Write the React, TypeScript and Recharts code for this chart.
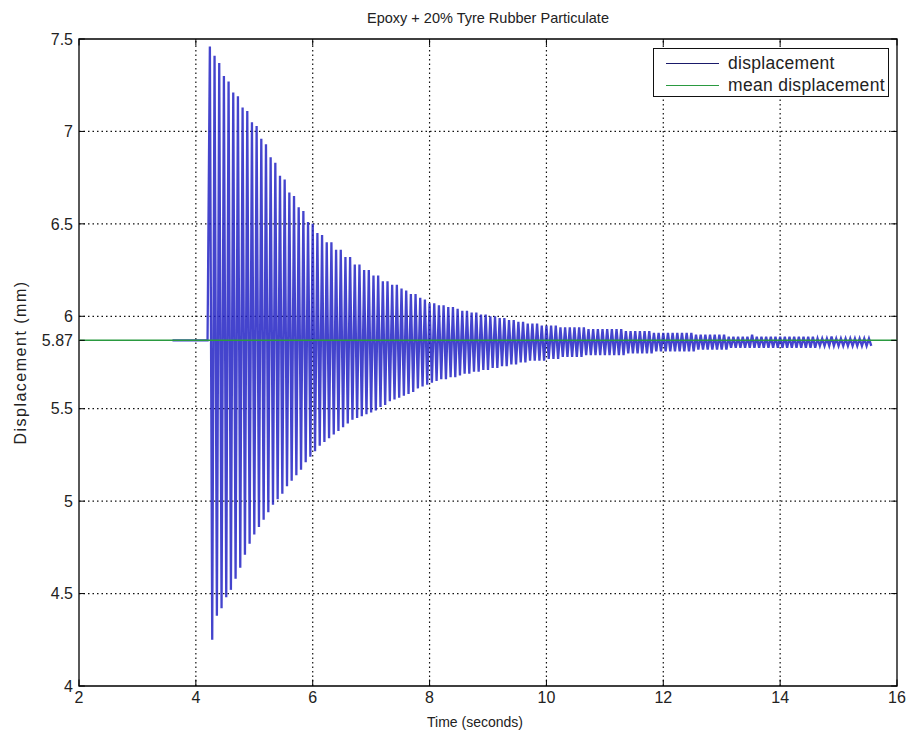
import React from "react";
import {
  LineChart,
  Line,
  XAxis,
  YAxis,
  Label,
  Legend,
  ReferenceLine,
  ReferenceArea,
} from "recharts";

// Free-decay test: time of the first crest and spacing between crests (s)
const cycleStart = 4.24;
const cyclePeriod = 0.08;

// Signal sitting at rest before the hit
const restTimes = [3.6, 4.2];
const restValues = [5.87, 5.87];

// Peak displacement of each cycle (mm)
const crestValues = [
  7.46, 7.41, 7.37, 7.3, 7.27, 7.21, 7.19, 7.13, 7.11, 7.05,
  7.03, 6.96, 6.93, 6.86, 6.83, 6.76, 6.74, 6.67, 6.65, 6.59,
  6.57, 6.51, 6.5, 6.45, 6.44, 6.4, 6.4, 6.36, 6.36, 6.32,
  6.32, 6.28, 6.28, 6.25, 6.25, 6.22, 6.22, 6.19, 6.19, 6.17,
  6.17, 6.15, 6.14, 6.12, 6.12, 6.1, 6.09, 6.07, 6.07, 6.06,
  6.06, 6.05, 6.05, 6.04, 6.03, 6.03, 6.02, 6.02, 6.01, 6.01,
  6.0, 6.0, 5.99, 5.99, 5.98, 5.98, 5.97, 5.97, 5.96, 5.96,
  5.96, 5.95, 5.95, 5.95, 5.95, 5.94, 5.94, 5.94, 5.94, 5.94,
  5.94, 5.93, 5.93, 5.93, 5.93, 5.93, 5.93, 5.93, 5.93, 5.92,
  5.92, 5.92, 5.92, 5.92, 5.92, 5.91, 5.91, 5.91, 5.91, 5.91,
  5.91, 5.91, 5.91, 5.91, 5.9, 5.9, 5.9, 5.9, 5.9, 5.9,
  5.9, 5.89, 5.89, 5.89, 5.89, 5.89, 5.9, 5.89, 5.89, 5.89,
  5.89, 5.89, 5.89, 5.89, 5.89, 5.89, 5.89, 5.89, 5.89, 5.89,
  5.88, 5.88, 5.88, 5.89, 5.88, 5.88, 5.88, 5.88, 5.88, 5.88,
  5.88, 5.88,
];

// Lowest displacement of each cycle (mm)
const troughValues = [
  4.25, 4.38, 4.42, 4.48, 4.52, 4.58, 4.64, 4.71, 4.77, 4.82,
  4.86, 4.9, 4.94, 4.98, 5.01, 5.04, 5.08, 5.11, 5.14, 5.17,
  5.21, 5.24, 5.27, 5.3, 5.32, 5.34, 5.36, 5.38, 5.4, 5.42,
  5.44, 5.45, 5.46, 5.47, 5.48, 5.49, 5.51, 5.52, 5.54, 5.55,
  5.56, 5.57, 5.58, 5.59, 5.61, 5.62, 5.63, 5.64, 5.65, 5.66,
  5.66, 5.67, 5.67, 5.68, 5.69, 5.69, 5.7, 5.7, 5.71, 5.71,
  5.72, 5.72, 5.73, 5.73, 5.74, 5.74, 5.75, 5.75, 5.76, 5.76,
  5.76, 5.76, 5.77, 5.77, 5.77, 5.78, 5.78, 5.78, 5.78, 5.78,
  5.79, 5.79, 5.79, 5.79, 5.79, 5.79, 5.79, 5.79, 5.79, 5.8,
  5.8, 5.8, 5.8, 5.8, 5.8, 5.81, 5.81, 5.81, 5.81, 5.81,
  5.81, 5.81, 5.81, 5.81, 5.82, 5.82, 5.82, 5.82, 5.82, 5.82,
  5.82, 5.83, 5.83, 5.83, 5.83, 5.83, 5.83, 5.83, 5.83, 5.83,
  5.83, 5.83, 5.83, 5.83, 5.83, 5.83, 5.83, 5.83, 5.83, 5.83,
  5.84, 5.84, 5.84, 5.84, 5.84, 5.84, 5.84, 5.84, 5.84, 5.84,
  5.84, 5.84,
];

const meanDisplacement = 5.87;

const xTicks = [2, 4, 6, 8, 10, 12, 14, 16];
const yTicks = [4, 4.5, 5, 5.5, 5.87, 6, 6.5, 7, 7.5];
const gridX = [4, 6, 8, 10, 12, 14];
const gridY = [4.5, 5, 5.5, 6, 6.5, 7];

const displacementData = [
  ...restTimes.map((t, i) => ({ t, y: restValues[i] })),
  ...crestValues.flatMap((crest, k) => [
    { t: cycleStart + k * cyclePeriod, y: crest },
    { t: cycleStart + (k + 0.5) * cyclePeriod, y: troughValues[k] },
  ]),
];

const meanData = [
  { t: 2, y: meanDisplacement },
  { t: 16, y: meanDisplacement },
];

const FONT = '"Liberation Sans", Arial, Helvetica, sans-serif';
const BLUE = "#2323c4";
const GREEN = "#2a9a40";

function BoxLegend({ payload }: any) {
  return (
    <div
      style={{
        width: 236,
        height: 49,
        boxSizing: "border-box",
        border: "1px solid #111",
        background: "#fff",
        padding: "3px 0 0 12px",
        fontFamily: FONT,
        fontSize: 17.5,
        letterSpacing: 0.3,
        color: "#222",
      }}
    >
      {(payload || []).map((entry: any) => (
        <div key={entry.value} style={{ display: "flex", alignItems: "center", height: 22 }}>
          <span
            style={{
              display: "inline-block",
              width: 53,
              borderTop: `1.5px solid ${entry.value === "displacement" ? "#1a1a6a" : GREEN}`,
              marginRight: 9,
            }}
          />
          <span>{entry.value}</span>
        </div>
      ))}
    </div>
  );
}

export default function App() {
  const tickStyle = { fontFamily: FONT, fontSize: 16, fill: "#222" };
  return (
    <div style={{ position: "absolute", left: 0, top: 0, width: 913, height: 737, background: "#fff" }}>
      <div
        style={{
          position: "absolute",
          left: 79,
          width: 818,
          top: 10,
          textAlign: "center",
          fontFamily: FONT,
          fontSize: 14.5,
          lineHeight: "16px",
          color: "#222",
        }}
      >
        Epoxy + 20% Tyre Rubber Particulate
      </div>
      <LineChart
        width={913}
        height={737}
        margin={{ top: 39, right: 16, bottom: 0, left: 0 }}
      >
        <XAxis
          dataKey="t"
          type="number"
          domain={[2, 16]}
          ticks={xTicks}
          interval={0}
          allowDataOverflow
          height={51}
          axisLine={false}
          tickLine={false}
          tickSize={0}
          tickMargin={6}
          tick={tickStyle}
        >
          <Label
            value="Time (seconds)"
            position="insideBottom"
            offset={10}
            dx={-13}
            style={{ fontFamily: FONT, fontSize: 14, fill: "#222" }}
          />
        </XAxis>
        <YAxis
          type="number"
          domain={[4, 7.5]}
          ticks={yTicks}
          interval={0}
          allowDataOverflow
          width={79}
          axisLine={false}
          tickLine={false}
          tickSize={0}
          tickMargin={6}
          tick={tickStyle}
        >
          <Label
            value="Displacement (mm)"
            angle={-90}
            position="insideLeft"
            offset={20}
            style={{ textAnchor: "middle", fontFamily: FONT, fontSize: 16, letterSpacing: 1.5, fill: "#222" }}
          />
        </YAxis>

        {gridX.map((v) => (
          <ReferenceLine key={`gx${v}`} x={v} stroke="#111" strokeWidth={1.2} strokeDasharray="1.5 3" />
        ))}
        {gridY.map((v) => (
          <ReferenceLine key={`gy${v}`} y={v} stroke="#111" strokeWidth={1.2} strokeDasharray="1.5 3" />
        ))}

        <Line
          data={displacementData}
          dataKey="y"
          name="displacement"
          stroke={BLUE}
          strokeWidth={2.3}
          strokeOpacity={0.85}
          dot={false}
          isAnimationActive={false}
        />
        <Line
          data={meanData}
          dataKey="y"
          name="mean displacement"
          stroke={GREEN}
          strokeWidth={1.5}
          dot={false}
          isAnimationActive={false}
        />

        {/* inward tick marks on all four sides */}
        {yTicks.map((v) => (
          <ReferenceLine key={`tl${v}`} segment={[{ x: 2, y: v }, { x: 2.1, y: v }]} stroke="#000" />
        ))}
        {yTicks.map((v) => (
          <ReferenceLine key={`tr${v}`} segment={[{ x: 15.9, y: v }, { x: 16, y: v }]} stroke="#000" />
        ))}
        {xTicks.map((v) => (
          <ReferenceLine key={`tb${v}`} segment={[{ x: v, y: 4 }, { x: v, y: 4.035 }]} stroke="#000" />
        ))}
        {xTicks.map((v) => (
          <ReferenceLine key={`tt${v}`} segment={[{ x: v, y: 7.465 }, { x: v, y: 7.5 }]} stroke="#000" />
        ))}
        <ReferenceArea x1={2} x2={16} y1={4} y2={7.5} fill="none" stroke="#000" strokeWidth={1.3} />

        <Legend
          layout="horizontal"
          align="center"
          verticalAlign="middle"
          content={BoxLegend}
          wrapperStyle={{ left: 653, top: 48, width: 236, height: 49 }}
        />
      </LineChart>
    </div>
  );
}
